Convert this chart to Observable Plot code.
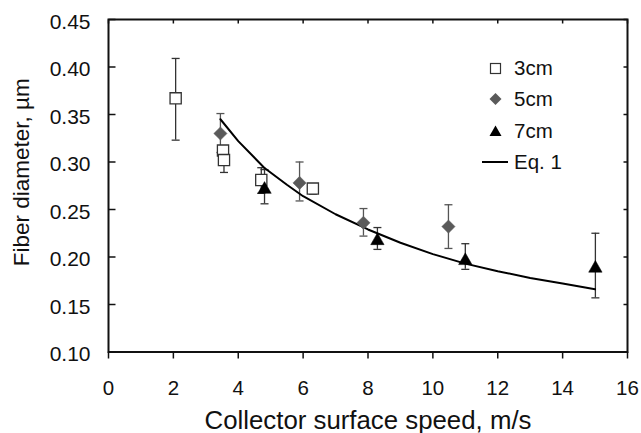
<!DOCTYPE html>
<html>
<head>
<meta charset="utf-8">
<script src="https://cdn.jsdelivr.net/npm/d3@7"></script>
<script src="https://cdn.jsdelivr.net/npm/@observablehq/plot@0.6"></script>
<style>
  html, body { margin: 0; padding: 0; background: #fff; }
  #wrap { position: relative; width: 641px; height: 433px; font-family: "Liberation Sans", Arial, sans-serif; }
  .leg { position: absolute; left: 478px; height: 24px; display: flex; align-items: center; font-size: 20.5px; color: #111; }
  .leg svg { width: 36px; height: 24px; display: block; }
</style>
</head>
<body>
<div id="wrap"></div>
<script>
// ---- Data ----
const xTicks = [0, 2, 4, 6, 8, 10, 12, 14, 16];
const yTicks = [0.10, 0.15, 0.20, 0.25, 0.30, 0.35, 0.40, 0.45];

// 3cm (open squares)
const x3  = [2.07, 3.53, 3.56, 4.71, 6.30];
const y3  = [0.367, 0.312, 0.302, 0.281, 0.272];
const lo3 = [0.323, null, 0.289, 0.267, 0.266];
const hi3 = [0.409, null, 0.310, 0.294, 0.276];

// 5cm (gray diamonds)
const x5  = [3.45, 5.89, 7.86, 10.48];
const y5  = [0.330, 0.278, 0.236, 0.232];
const lo5 = [0.310, 0.259, 0.222, 0.209];
const hi5 = [0.351, 0.300, 0.251, 0.255];

// 7cm (black triangles)
const x7  = [4.81, 8.29, 11.0, 15.01];
const y7  = [0.273, 0.219, 0.198, 0.190];
const lo7 = [0.256, 0.208, 0.187, 0.157];
const hi7 = [0.292, 0.231, 0.214, 0.225];

// Eq. 1 curve
const eqX = [3.45, 4, 4.8, 5.5, 6, 7, 8, 9, 10, 11, 12, 13, 14, 15];
const eqY = [0.345, 0.322, 0.294, 0.276, 0.264, 0.245, 0.229, 0.215, 0.203, 0.193, 0.185, 0.178, 0.172, 0.166];

const legendLabels = ["3cm", "5cm", "7cm", "Eq. 1"];
const xTitle = "Collector surface speed, m/s";
const yTitle = "Fiber diameter, µm";

// ---- build tables ----
const rows = (xs, ys, los, his) => xs.map((x, i) => ({x, y: ys[i], lo: los[i], hi: his[i]}));
const s3 = rows(x3, y3, lo3, hi3);
const s5 = rows(x5, y5, lo5, hi5);
const s7 = rows(x7, y7, lo7, hi7);
const eq = eqX.map((x, i) => ({x, y: eqY[i]}));
const hasErr = d => d.lo != null && d.hi != null;

// ---- custom symbols (r = half-width) ----
const rr = size => Math.sqrt(size / Math.PI);
const symSquare = {draw(c, s) { const r = rr(s); c.rect(-r, -r, 2 * r, 2 * r); }};
const symDiamond = {draw(c, s) { const r = rr(s); c.moveTo(0, -r); c.lineTo(r, 0); c.lineTo(0, r); c.lineTo(-r, 0); c.closePath(); }};
const symTriangle = {draw(c, s) { const r = rr(s); c.moveTo(0, -0.9 * r); c.lineTo(r, 0.85 * r); c.lineTo(-r, 0.85 * r); c.closePath(); }};
const symCap = {draw(c, s) { const r = rr(s); c.moveTo(-r, 0); c.lineTo(r, 0); }};
const tickRight = {draw(c, s) { const r = rr(s); c.moveTo(0, 0); c.lineTo(r, 0); }};
const tickLeft = {draw(c, s) { const r = rr(s); c.moveTo(0, 0); c.lineTo(-r, 0); }};
const tickDown = {draw(c, s) { const r = rr(s); c.moveTo(0, 0); c.lineTo(0, r); }};

const errMarks = (data, color) => {
  const d = data.filter(hasErr);
  return [
    Plot.ruleX(d, {x: "x", y1: "lo", y2: "hi", stroke: color, strokeWidth: 1.3}),
    Plot.dot(d, {x: "x", y: "lo", symbol: symCap, r: 4, fill: "none", stroke: color, strokeWidth: 1.3}),
    Plot.dot(d, {x: "x", y: "hi", symbol: symCap, r: 4, fill: "none", stroke: color, strokeWidth: 1.3})
  ];
};

const chart = Plot.plot({
  width: 641,
  height: 433,
  marginLeft: 108,
  marginRight: 14,
  marginTop: 19,
  marginBottom: 81.5,
  style: {fontFamily: "'Liberation Sans', Arial, sans-serif", background: "#fff", color: "#111"},
  x: {domain: [0, 16]},
  y: {domain: [0.10, 0.45]},
  marks: [
    Plot.frame({stroke: "#111", strokeWidth: 2}),
    Plot.axisY(yTicks, {anchor: "left", tickSize: 0, tickPadding: 18, fontSize: 21, dy: 2.5, tickFormat: d3.format(".2f"), label: null}),
    Plot.axisX(xTicks, {anchor: "bottom", tickSize: 7, tickPadding: 21.5, fontSize: 20.5, strokeWidth: 1.5, label: null}),
    Plot.dot(yTicks, {y: d => d, frameAnchor: "left", symbol: tickRight, r: 7, fill: "none", stroke: "#111", strokeWidth: 1.5}),
    Plot.dot(yTicks, {y: d => d, frameAnchor: "right", symbol: tickLeft, r: 4, fill: "none", stroke: "#111", strokeWidth: 1.5}),
    Plot.dot(xTicks, {x: d => d, frameAnchor: "top", symbol: tickDown, r: 4, fill: "none", stroke: "#111", strokeWidth: 1.5}),
    Plot.text([xTitle], {frameAnchor: "bottom", dy: 69, fontSize: 25.8, lineAnchor: "middle", textAnchor: "middle", fill: "#111"}),
    Plot.text([yTitle], {frameAnchor: "left", dx: -87, dy: -13.5, rotate: -90, fontSize: 22.5, lineAnchor: "middle", textAnchor: "middle", fill: "#111"}),
    ...errMarks(s3, "#333"),
    ...errMarks(s5, "#555"),
    ...errMarks(s7, "#333"),
    Plot.line(eq, {x: "x", y: "y", stroke: "#000", strokeWidth: 2}),
    Plot.dot(s3, {x: "x", y: "y", symbol: symSquare, r: 5.6, fill: "#fff", stroke: "#333", strokeWidth: 1.3}),
    Plot.dot(s5, {x: "x", y: "y", symbol: symDiamond, r: 6.6, fill: "#5a5a5a", stroke: "#5a5a5a", strokeWidth: 0.5}),
    Plot.dot(s7, {x: "x", y: "y", symbol: symTriangle, r: 6.7, fill: "#000", stroke: "#000", strokeWidth: 0.5})
  ]
});

const wrap = document.getElementById("wrap");
wrap.appendChild(chart);

// ---- legend (HTML overlay inside the plot frame) ----
const legendSymbols = [
  `<rect x="12.5" y="7.5" width="10" height="10" fill="#fff" stroke="#333" stroke-width="1.2"/>`,
  `<path d="M17.5,6 L23.5,12 L17.5,18 L11.5,12 Z" fill="#5a5a5a"/>`,
  `<path d="M17.5,6.5 L23.5,17 L11.5,17 Z" fill="#000"/>`,
  `<line x1="4" y1="12" x2="30" y2="12" stroke="#000" stroke-width="2"/>`
];
const legendTops = [56, 87, 119, 150];
legendLabels.forEach((lab, i) => {
  const div = document.createElement("div");
  div.className = "leg";
  div.style.top = legendTops[i] + "px";
  div.innerHTML = `<svg viewBox="0 0 36 24">${legendSymbols[i]}</svg><span>${lab}</span>`;
  wrap.appendChild(div);
});
</script>
</body>
</html>
